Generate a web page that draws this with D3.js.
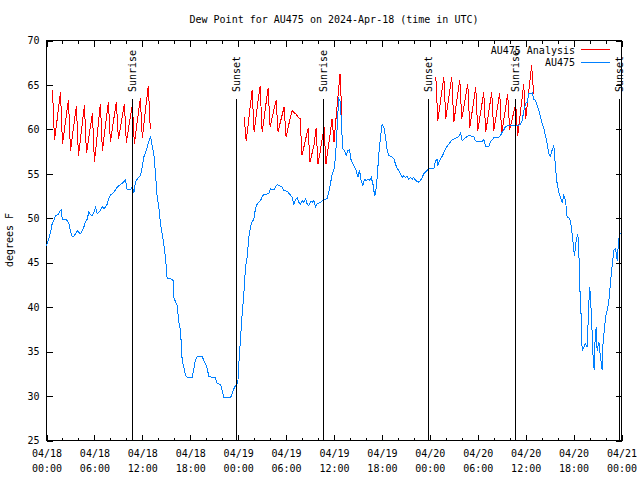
<!DOCTYPE html>
<html><head><meta charset="utf-8">
<script src="https://cdn.jsdelivr.net/npm/d3@7"></script>
<style>
body{margin:0;background:#fff}
svg{display:block;background:#fff}
text{font-family:"DejaVu Sans Mono",monospace;font-size:10px;fill:#000}
</style></head><body>
<svg id="c" width="640" height="480"></svg>
<script>
// ---------------- data ----------------
const titleText = "Dew Point for AU475 on 2024-Apr-18 (time in UTC)";
const yLabel = "degrees F";
const seriesNames = ["AU475 Analysis", "AU475"];
const seriesColors = ["#ff0000", "#0080ff"];

const tickHours = [0, 6, 12, 18, 24, 30, 36, 42, 48, 54, 60, 66, 72];
const tickDates = ["04/18","04/18","04/18","04/18","04/19","04/19","04/19","04/19","04/20","04/20","04/20","04/20","04/21"];
const tickTimes = ["00:00","06:00","12:00","18:00","00:00","06:00","12:00","18:00","00:00","06:00","12:00","18:00","00:00"];
const yTicks = [25, 30, 35, 40, 45, 50, 55, 60, 65, 70];

const sunHours = [10.7, 23.75, 34.65, 47.8, 58.65, 71.65];
const sunLabels = ["Sunrise", "Sunset", "Sunrise", "Sunset", "Sunrise", "Sunset"];

// analysis (red) segments: start hour, values every 15 minutes
const anaStarts = [0.75, 24.75, 48.75];
const ana1 = [64.4,
  58.8, 60.5, 62.4, 64.2,
  58.4, 60.0, 61.7, 63.3,
  57.6, 59.3, 61.0, 62.6,
  57.0, 58.9, 60.8, 62.7,
  57.3, 58.8, 60.3, 61.8,
  56.3, 58.5, 60.7, 62.9,
  57.6, 59.5, 61.3, 63.1,
  58.6, 60.1, 61.6, 63.1,
  58.9, 60.2, 61.5, 62.9,
  58.5, 60.0, 61.4, 62.8,
  58.4, 60.1, 61.8, 63.5,
  59.0, 61.0, 63.0, 64.9,
  60.0];
const ana2 = [61.4,
  58.75, 60.5, 62.5, 64.4,
  59.7, 61.5, 63.3, 64.9,
  59.7, 61.3, 63.0, 64.6,
  60.3, 61.3, 62.3, 63.25,
  59.7, 60.7, 61.6, 62.5,
  59.1, 60.2, 61.2, 62.1,
  61.9, 61.7, 61.4, 61.2,
  57.1, 58.1, 59.1, 60.1,
  56.3, 57.3, 58.3, 60.1,
  56.1, 57.4, 58.8, 60.25,
  56.1, 57.8, 59.4, 61.2,
  58.6, 61.2, 63.7, 66.25,
  61.4];
const ana3 = [65.9,
  61.0, 62.6, 64.3, 65.9,
  61.2, 62.8, 64.4, 65.9,
  60.8, 62.4, 64.0, 65.6,
  61.2, 62.5, 63.8, 65.1,
  60.2, 61.7, 63.2, 64.75,
  59.8, 61.3, 62.7, 64.2,
  59.7, 61.2, 62.7, 64.2,
  59.8, 61.2, 62.7, 64.1,
  59.5, 61.0, 62.5, 64.0,
  59.95, 60.9, 61.9, 62.9,
  59.3, 61.2, 63.1, 65.1,
  61.2, 63.2, 65.2, 67.2,
  64.0];

// observations (blue): hour since 04/18 00:00, value
const obsHours = [0,0.29,0.5,0.71,0.92,1.13,1.34,1.54,1.75,1.88,1.96,2.38,2.59,2.8,3.0,3.21,3.42,3.63,3.84,4.05,4.26,4.47,4.67,4.88,5.09,5.3,5.51,5.72,5.93,6.14,6.34,6.55,6.76,6.97,7.18,7.39,7.6,7.8,8.01,8.43,8.85,9.27,9.68,9.89,10.1,10.52,10.73,10.94,11.14,11.35,11.77,11.98,12.19,12.4,12.61,12.81,13.02,13.23,13.44,13.65,13.86,14.07,14.27,14.48,14.69,14.9,15.11,15.53,15.86,15.94,16.15,16.36,16.57,16.78,16.99,17.2,17.41,17.61,18.24,18.45,18.66,18.87,19.49,19.7,19.91,20.12,20.33,21.16,21.37,21.79,22.0,22.2,23.04,23.25,23.46,23.67,23.96,24.08,24.29,24.5,24.71,24.92,25.13,25.34,25.54,25.75,25.96,26.17,26.38,26.8,27.01,27.21,27.84,28.05,28.47,28.88,29.3,29.51,29.72,30.14,30.55,30.76,30.97,31.18,31.39,31.6,31.81,32.01,32.22,32.43,32.64,32.85,33.06,33.27,33.48,33.68,33.89,34.31,34.73,35.14,35.35,35.56,35.77,35.98,36.19,36.31,36.48,36.61,36.81,36.94,37.11,37.32,37.52,37.73,37.94,38.15,38.36,38.57,38.78,38.99,39.19,39.4,39.61,39.82,40.03,40.24,40.45,40.66,40.91,41.07,41.2,41.41,41.61,41.82,42.03,42.24,42.45,42.66,42.87,43.28,43.49,43.7,43.91,44.12,44.33,44.54,44.74,44.95,45.16,45.37,45.58,45.79,46.0,46.21,46.62,46.83,47.04,47.25,47.66,47.87,48.5,48.71,48.92,49.0,49.13,49.33,49.54,49.75,49.96,50.17,50.59,50.8,51.0,51.42,51.63,51.84,52.05,52.26,52.67,52.88,53.51,53.72,54.55,54.76,54.97,55.39,55.6,55.8,56.01,56.64,56.85,57.06,57.27,57.47,57.68,58.93,59.35,59.56,59.77,59.98,60.19,60.4,60.81,61.02,61.23,61.44,61.65,61.86,62.07,62.27,62.48,62.69,62.9,63.11,63.32,63.53,63.74,63.94,64.15,64.36,64.57,64.78,64.99,65.2,65.4,65.61,65.82,66.03,66.11,66.32,66.53,66.66,66.78,66.95,67.07,67.28,67.49,67.7,67.91,68.03,68.2,68.33,68.45,68.58,68.7,68.83,68.95,69.16,69.37,69.58,69.7,69.87,70.0,70.2,70.41,70.62,70.83,71.04,71.25,71.46,71.66,71.87];
const obsValues = [46.9,47.7,48.4,49.4,49.8,50.3,50.4,50.5,50.9,51.0,49.9,49.9,49.75,49.4,48.6,47.95,47.95,48.25,48.6,48.4,48.25,48.6,49.0,49.6,49.9,50.7,50.4,50.3,50.7,51.25,50.5,50.7,50.9,51.3,51.1,51.25,51.6,52.2,52.6,52.9,53.5,53.8,54.1,54.3,53.2,53.2,53.6,52.9,54.1,54.4,54.8,55.75,56.9,57.4,58.0,58.6,59.2,58.2,57.25,55.0,52.4,51.25,49.4,48.25,47.1,45.6,43.2,43.2,43.0,41.1,40.6,40.2,38.3,37.4,34.0,33.25,32.3,32.1,32.1,33.1,34.1,34.45,34.45,34.0,33.6,33.1,32.2,32.05,31.4,31.3,30.6,29.8,29.8,30.25,30.8,31.2,31.5,33.6,36.4,39.25,41.5,44.5,45.6,47.9,49.0,49.6,49.9,51.1,51.6,52.0,52.4,52.7,52.75,53.3,53.2,53.8,53.6,53.5,53.1,53.05,52.6,52.4,51.6,52.1,52.3,51.8,51.6,52.0,51.8,52.2,51.6,51.4,51.9,51.8,52.0,51.3,51.6,51.8,52.1,52.2,52.9,53.9,55.0,55.4,56.9,58.75,61.75,63.4,63.06,60.25,57.8,57.6,57.06,57.6,57.7,56.5,56.1,55.75,55.4,54.6,55.4,54.25,53.7,54.4,54.25,54.4,54.25,54.6,53.7,52.6,52.75,54.6,57.25,59.1,60.6,60.25,59.1,57.6,57.06,56.9,56.7,56.1,55.6,55.4,55.0,54.6,54.8,54.6,54.7,54.4,54.6,54.4,54.6,54.25,54.06,54.25,54.6,55.0,55.4,55.6,55.6,56.5,56.6,55.9,56.3,56.7,56.95,57.4,57.8,58.1,58.6,58.8,58.9,59.1,59.2,59.6,58.75,58.9,59.2,59.3,59.2,58.7,58.6,58.9,58.1,58.1,58.6,58.8,59.05,59.1,59.3,59.7,59.95,60.3,60.4,60.4,60.6,61.0,62.1,62.9,63.06,64.0,64.1,63.4,63.25,62.7,62.1,61.4,60.6,60.1,59.3,58.4,57.25,57.0,57.7,58.2,55.6,53.9,52.9,52.4,51.8,52.6,52.0,50.1,50.05,49.75,48.25,46.4,45.8,47.5,48.25,46.2,42.25,38.9,35.1,35.5,35.9,35.5,40.4,42.25,39.6,37.0,34.2,32.9,36.6,37.75,35.1,36.1,34.4,32.9,36.25,37.6,38.9,39.6,40.6,42.8,44.7,46.4,46.6,45.25,47.7,48.4];

// ---------------- drawing ----------------
const svg = d3.select("#c");
const L = 46.5, R = 621.5, T = 40.5, B = 440.5;
const x = d3.scaleLinear().domain([0, 72]).range([L, R]);
const y = d3.scaleLinear().domain([25, 70]).range([B, T]);

svg.append("rect").attr("width", 640).attr("height", 480).attr("fill", "#fff");

// title
svg.append("text").attr("x", (L + R) / 2).attr("y", 23).attr("text-anchor", "middle").text(titleText);

// y label
svg.append("text").attr("transform", "translate(13,240) rotate(-90)").attr("text-anchor", "middle").text(yLabel);

// axes
const minorHours = d3.range(0, 73, 2).filter(h => h % 6 !== 0);
function styleAxis(g) {
  g.select(".domain").remove();
  g.selectAll("line").attr("stroke", "#000").attr("shape-rendering", "crispEdges");
  g.selectAll("text").style("font-family", '"DejaVu Sans Mono",monospace').style("font-size", "10px").attr("fill", "#000");
}
// left
svg.append("g").attr("transform", `translate(${L},0)`)
  .call(d3.axisLeft(y).tickValues(yTicks).tickSize(-6).tickPadding(7).tickFormat(d3.format("d")))
  .call(styleAxis);
// right
svg.append("g").attr("transform", `translate(${R},0)`)
  .call(d3.axisRight(y).tickValues(yTicks).tickSize(-6).tickFormat(""))
  .call(styleAxis);
// bottom major
const xb = svg.append("g").attr("transform", `translate(0,${B})`)
  .call(d3.axisBottom(x).tickValues(tickHours).tickSize(-6).tickPadding(6).tickFormat(""))
  .call(styleAxis);
xb.selectAll(".tick").each(function(d, i) {
  const t = d3.select(this).append("text").attr("text-anchor", "middle").attr("fill", "#000");
  t.append("tspan").attr("x", 0).attr("y", 16).text(tickDates[i]);
  t.append("tspan").attr("x", 0).attr("y", 31).text(tickTimes[i]);
});
// bottom minor
svg.append("g").attr("transform", `translate(0,${B})`)
  .call(d3.axisBottom(x).tickValues(minorHours).tickSize(-3).tickFormat(""))
  .call(styleAxis);
// top major/minor
svg.append("g").attr("transform", `translate(0,${T})`)
  .call(d3.axisTop(x).tickValues(tickHours).tickSize(-6).tickFormat(""))
  .call(styleAxis);
svg.append("g").attr("transform", `translate(0,${T})`)
  .call(d3.axisTop(x).tickValues(minorHours).tickSize(-3).tickFormat(""))
  .call(styleAxis);

// frame
svg.append("rect").attr("x", L).attr("y", T).attr("width", R - L).attr("height", B - T)
  .attr("fill", "none").attr("stroke", "#000").attr("shape-rendering", "crispEdges");

// series
const line = d3.line().x(d => x(d[0])).y(d => y(d[1]));
const anaSegs = [ana1, ana2, ana3];
anaSegs.forEach((seg, k) => {
  const pts = seg.map((v, i) => [anaStarts[k] + i * 0.25, v]);
  svg.append("path").datum(pts).attr("d", line).attr("fill", "none")
    .attr("stroke", seriesColors[0]).attr("stroke-width", 1).attr("shape-rendering", "crispEdges");
});
const obsPts = obsHours.map((h, i) => [h, obsValues[i]]);
svg.append("path").datum(obsPts).attr("d", line).attr("fill", "none")
  .attr("stroke", seriesColors[1]).attr("stroke-width", 1).attr("shape-rendering", "crispEdges");

// sunrise / sunset
sunHours.forEach((h, i) => {
  const sx = Math.round(x(h)) + 0.5;
  svg.append("line").attr("x1", sx).attr("x2", sx).attr("y1", 99).attr("y2", B)
    .attr("stroke", "#000").attr("shape-rendering", "crispEdges");
  svg.append("text").attr("transform", `translate(${sx + 3.5},92) rotate(-90)`)
    .attr("text-anchor", "start").text(sunLabels[i]);
});

// legend
const leg = [[54, 49.5], [66, 62.5]];
seriesNames.forEach((n, i) => {
  svg.append("text").attr("x", 575).attr("y", leg[i][0]).attr("text-anchor", "end").text(n);
  svg.append("line").attr("x1", 581).attr("x2", 610).attr("y1", leg[i][1]).attr("y2", leg[i][1])
    .attr("stroke", seriesColors[i]).attr("shape-rendering", "crispEdges");
});
</script>
</body></html>
